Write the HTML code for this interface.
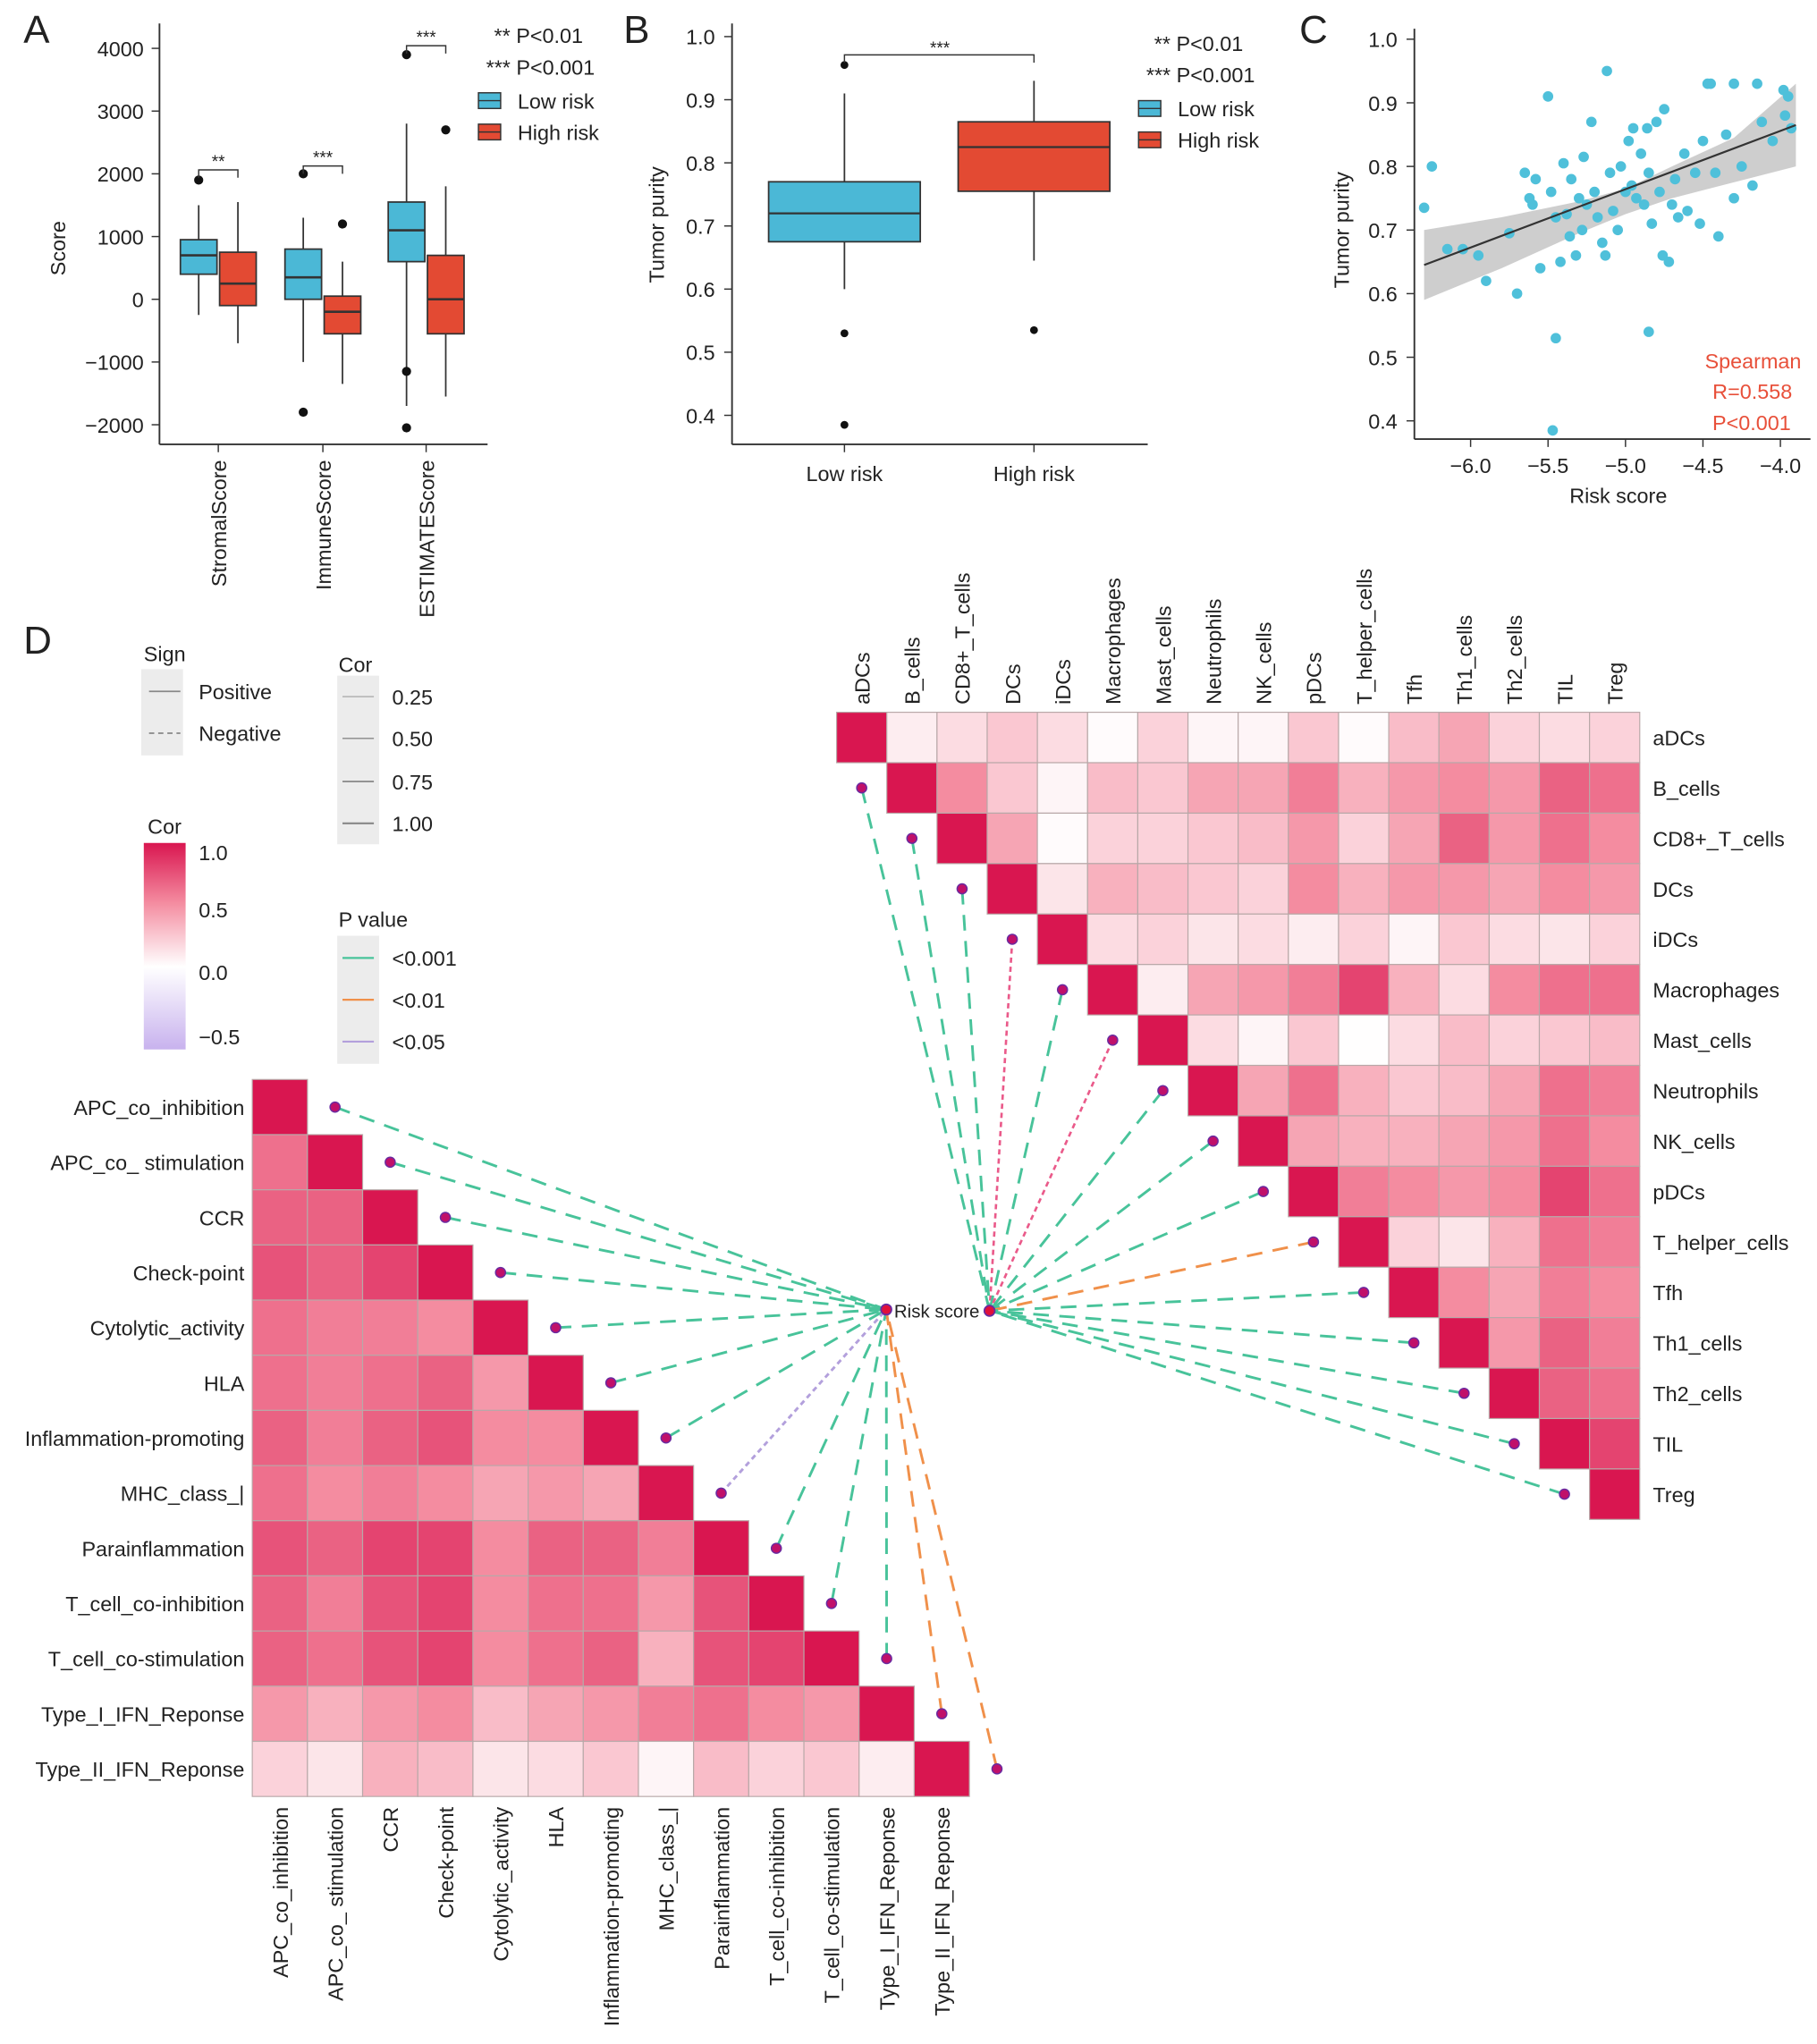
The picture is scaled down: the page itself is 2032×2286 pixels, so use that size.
<!DOCTYPE html>
<html><head><meta charset="utf-8"><style>
html,body{margin:0;padding:0;background:#fff}
svg{display:block;font-family:"Liberation Sans",Arial,sans-serif}
</style></head><body>
<svg id="fig" xmlns="http://www.w3.org/2000/svg" width="2032" height="2286" viewBox="0 0 1390 1564" preserveAspectRatio="none">
<g id="root"></g>
</svg>
<script>
// ---------- DATA ----------
const aGroups=["StromalScore","ImmuneScore","ESTIMATEScore"];
const aLow=[[-250,400,700,950,1500],[-1000,0,350,800,1300],[-1700,600,1100,1550,2800]];
const aHigh=[[-700,-100,250,750,1550],[-1350,-550,-200,50,600],[-1550,-550,0,700,1800]];
const aLowOut=[[1900],[2000,-1800],[3900,-1150,-2050]];
const aHighOut=[[],[1200],[2700]];
const aSig=["**","***","***"];
const aTicks=[4000,3000,2000,1000,0,-1000,-2000];
const bGroups=["Low risk","High risk"];
const bStats=[[0.60,0.675,0.72,0.77,0.91],[0.645,0.755,0.825,0.865,0.93]];
const bOut=[[0.955,0.53,0.385],[0.535]];
const bTicks=[1.0,0.9,0.8,0.7,0.6,0.5,0.4];
const cX=[-6.3,-6.25,-6.15,-5.95,-5.9,-5.75,-5.7,-5.65,-5.62,-5.6,-5.58,-5.55,-5.5,-5.48,-5.45,-5.42,-5.4,-5.38,-5.36,-5.35,-5.32,-5.3,-5.28,-5.27,-5.25,-5.22,-5.2,-5.18,-5.15,-5.13,-5.12,-5.1,-5.08,-5.05,-5.03,-5.0,-4.98,-4.96,-4.95,-4.93,-4.9,-4.88,-4.86,-4.85,-4.83,-4.8,-4.78,-4.76,-4.75,-4.72,-4.7,-4.68,-4.66,-4.62,-4.6,-4.55,-4.52,-4.5,-4.47,-4.45,-4.42,-4.4,-4.35,-4.3,-4.25,-4.18,-4.12,-4.05,-3.98,-3.95,-3.93,-3.97,-5.45,-5.47,-4.85,-4.3,-4.15,-6.05];
const cY=[0.735,0.8,0.67,0.66,0.62,0.695,0.6,0.79,0.75,0.74,0.78,0.64,0.91,0.76,0.72,0.65,0.805,0.725,0.69,0.78,0.66,0.75,0.7,0.815,0.74,0.87,0.76,0.72,0.68,0.66,0.95,0.79,0.73,0.7,0.8,0.76,0.84,0.77,0.86,0.75,0.82,0.74,0.86,0.79,0.71,0.87,0.76,0.66,0.89,0.65,0.74,0.78,0.72,0.82,0.73,0.79,0.71,0.84,0.93,0.93,0.79,0.69,0.85,0.93,0.8,0.77,0.87,0.84,0.92,0.91,0.86,0.88,0.53,0.385,0.54,0.75,0.93,0.67];
const cXTicks=[-6.0,-5.5,-5.0,-4.5,-4.0];
const cYTicks=[1.0,0.9,0.8,0.7,0.6,0.5,0.4];
const rLabels=["aDCs","B_cells","CD8+_T_cells","DCs","iDCs","Macrophages","Mast_cells","Neutrophils","NK_cells","pDCs","T_helper_cells","Tfh","Th1_cells","Th2_cells","TIL","Treg"];
const rUpper=[
[0.15,0.25,0.35,0.25,0.05,0.3,0.1,0.1,0.35,0.05,0.4,0.5,0.3,0.25,0.3],
[0.6,0.35,0.1,0.4,0.35,0.5,0.5,0.65,0.45,0.55,0.6,0.55,0.75,0.7],
[0.5,0.05,0.3,0.3,0.35,0.4,0.55,0.3,0.5,0.75,0.55,0.7,0.6],
[0.2,0.45,0.4,0.35,0.3,0.6,0.45,0.55,0.55,0.5,0.6,0.55],
[0.25,0.3,0.2,0.25,0.15,0.3,0.1,0.35,0.25,0.2,0.3],
[0.15,0.5,0.55,0.65,0.85,0.45,0.25,0.6,0.7,0.7],
[0.25,0.1,0.35,0.02,0.25,0.4,0.3,0.35,0.4],
[0.5,0.7,0.45,0.35,0.4,0.5,0.7,0.65],
[0.5,0.45,0.45,0.5,0.55,0.7,0.6],
[0.65,0.6,0.55,0.6,0.85,0.7],
[0.3,0.2,0.45,0.7,0.65],
[0.6,0.5,0.65,0.6],
[0.55,0.75,0.65],
[0.75,0.7],
[0.85],
[]];
const rLinkP=["","g","g","g","p","g","p","g","g","g","o","g","g","g","g","g"];
const lLabels=["APC_co_inhibition","APC_co_ stimulation","CCR","Check-point","Cytolytic_activity","HLA","Inflammation-promoting","MHC_class_|","Parainflammation","T_cell_co-inhibition","T_cell_co-stimulation","Type_I_IFN_Reponse","Type_II_IFN_Reponse"];
const lLower=[[],
[0.7],
[0.75,0.75],
[0.8,0.75,0.85],
[0.7,0.65,0.65,0.6],
[0.7,0.65,0.7,0.75,0.55],
[0.75,0.65,0.75,0.8,0.6,0.6],
[0.7,0.6,0.65,0.6,0.5,0.55,0.5],
[0.8,0.75,0.85,0.85,0.6,0.75,0.75,0.65],
[0.75,0.65,0.8,0.85,0.6,0.7,0.7,0.55,0.8],
[0.75,0.7,0.8,0.85,0.6,0.7,0.75,0.45,0.8,0.85],
[0.55,0.45,0.55,0.6,0.4,0.5,0.55,0.65,0.7,0.6,0.55],
[0.3,0.2,0.45,0.4,0.2,0.25,0.35,0.1,0.4,0.3,0.35,0.15]];
const lLinkP=["g","g","g","g","g","g","g","v","g","g","g","o","o"];

// ---------- HELPERS ----------
const NS="http://www.w3.org/2000/svg";
const root=document.getElementById("root");
function mk(tag,attrs,parent,txt){const e=document.createElementNS(NS,tag);for(const k in attrs)e.setAttribute(k,attrs[k]);if(txt!==undefined)e.textContent=txt;(parent||root).appendChild(e);return e;}
function grp(name){const g=mk("g",{});return g;}
const BLUE="#4bb8d6",RED="#e34a33",DK="#333";
function corColor(v){
  function lerp(a,b,t){return a.map((x,i)=>Math.round(x+(b[i]-x)*t));}
  let c;
  if(v>=0){const t=Math.pow(v,1.35);
    if(t>=0.5)c=lerp([244,140,160],[217,22,80],(t-0.5)/0.5);
    else c=lerp([255,255,255],[244,140,160],t/0.5);}
  else c=lerp([255,255,255],[200,178,238],Math.min(1,-v/0.5));
  return `rgb(${c.join(",")})`;
}
function label(g,x,y,t,o){const e=mk("text",Object.assign({x:x,y:y,"font-size":16,fill:"#222"},o||{}),g,t);return e;}

// ---------- PANEL A ----------
(function(){
  const g=grp("panel-a");
  const yA=v=>229-v*0.048;
  label(g,18,33,"A",{"font-size":30});
  mk("line",{x1:122,y1:18,x2:122,y2:340,stroke:DK,"stroke-width":1.3},g);
  mk("line",{x1:122,y1:340,x2:373,y2:340,stroke:DK,"stroke-width":1.3},g);
  aTicks.forEach(t=>{const y=yA(t);mk("line",{x1:116,y1:y,x2:122,y2:y,stroke:DK},g);
    const e=label(g,110,y+6,(t<0?"\u2212"+(-t):""+t),{"text-anchor":"end"});});
  const yt=label(g,0,0,"Score",{transform:"translate(50,190) rotate(-90)","text-anchor":"middle"});
  
  const cx=[167,247,326];
  function box(x,s,col,outs,nm){
    const b=grp(nm);g.appendChild(b);
    mk("line",{x1:x,y1:yA(s[4]),x2:x,y2:yA(s[0]),stroke:DK,"stroke-width":1.2},b);
    mk("rect",{x:x-14,y:yA(s[3]),width:28,height:yA(s[1])-yA(s[3]),fill:col,stroke:DK,"stroke-width":1.2},b);
    mk("line",{x1:x-14,y1:yA(s[2]),x2:x+14,y2:yA(s[2]),stroke:DK,"stroke-width":1.8},b);
    outs.forEach(o=>mk("circle",{cx:x,cy:yA(o),r:3.5,fill:"#111"},b));
  }
  aGroups.forEach((nm,i)=>{
    box(cx[i]-15,aLow[i],BLUE,aLowOut[i],"box-low-"+nm.toLowerCase());
    box(cx[i]+15,aHigh[i],RED,aHighOut[i],"box-high-"+nm.toLowerCase());
    mk("line",{x1:cx[i],y1:340,x2:cx[i],y2:346,stroke:DK},g);
    const xl=label(g,0,0,nm,{transform:`translate(${cx[i]+6},352) rotate(-90)`,"text-anchor":"end"});
    
  });
  aGroups.forEach((nm,i)=>{
    const y=i==2?35:(i==0?130:127);
    mk("path",{d:`M${cx[i]-15} ${y+6}V${y}H${cx[i]+15}V${y+6}`,fill:"none",stroke:DK},g);
    label(g,cx[i],y-2,aSig[i],{"text-anchor":"middle","font-size":13});
  });
  label(g,446,33,"** P<0.01",{"text-anchor":"end"});
  label(g,455,57,"*** P<0.001",{"text-anchor":"end"});
  [[BLUE,"Low risk",77],[RED,"High risk",101]].forEach(([c,t,y])=>{
    const l=grp("legend-entry");g.appendChild(l);
    mk("rect",{x:366,y:y-6,width:17,height:12,fill:c,stroke:DK},l);
    mk("line",{x1:366,y1:y,x2:383,y2:y,stroke:DK},l);
    label(l,396,y+6,t);
  });
})();

// ---------- PANEL B ----------
(function(){
  const g=grp("panel-b");
  const yB=v=>28+(1-v)*483;
  label(g,477,33,"B",{"font-size":30});
  mk("line",{x1:560,y1:18,x2:560,y2:340,stroke:DK,"stroke-width":1.3},g);
  mk("line",{x1:560,y1:340,x2:878,y2:340,stroke:DK,"stroke-width":1.3},g);
  bTicks.forEach(t=>{const y=yB(t);mk("line",{x1:554,y1:y,x2:560,y2:y,stroke:DK},g);label(g,547,y+6,t.toFixed(1),{"text-anchor":"end"});});
  label(g,0,0,"Tumor purity",{transform:"translate(508,172) rotate(-90)","text-anchor":"middle"});
  const cx=[646,791],cols=[BLUE,RED];
  bGroups.forEach((nm,i)=>{
    const b=grp("box-"+nm.toLowerCase().replace(" ","-"));g.appendChild(b);
    const s=bStats[i],x=cx[i];
    mk("line",{x1:x,y1:yB(s[4]),x2:x,y2:yB(s[0]),stroke:DK,"stroke-width":1.2},b);
    mk("rect",{x:x-58,y:yB(s[3]),width:116,height:yB(s[1])-yB(s[3]),fill:cols[i],stroke:DK,"stroke-width":1.2},b);
    mk("line",{x1:x-58,y1:yB(s[2]),x2:x+58,y2:yB(s[2]),stroke:DK,"stroke-width":1.5},b);
    bOut[i].forEach(o=>mk("circle",{cx:x,cy:yB(o),r:3,fill:"#111"},b));
    mk("line",{x1:x,y1:340,x2:x,y2:346,stroke:DK},g);
    label(g,x,368,nm,{"text-anchor":"middle"});
  });
  mk("path",{d:"M646 48V42H791V48",fill:"none",stroke:DK},g);
  label(g,719,41,"***",{"text-anchor":"middle","font-size":13});
  label(g,951,39,"** P<0.01",{"text-anchor":"end"});
  label(g,960,63,"*** P<0.001",{"text-anchor":"end"});
  [[BLUE,"Low risk",83],[RED,"High risk",107]].forEach(([c,t,y])=>{
    const l=grp("legend-entry");g.appendChild(l);
    mk("rect",{x:871,y:y-6,width:17,height:12,fill:c,stroke:DK},l);
    mk("line",{x1:871,y1:y,x2:888,y2:y,stroke:DK},l);
    label(l,901,y+6,t);
  });
})();

// ---------- PANEL C ----------
(function(){
  const g=grp("panel-c");
  const xC=v=>1125+(v+6)*118.5, yC=v=>30+(1-v)*486.7;
  label(g,994,33,"C",{"font-size":30});
  const xs=[-6.3,-5.8,-5.3,-5.0,-4.7,-4.3,-3.9];
  const lo=[0.59,0.64,0.695,0.725,0.75,0.775,0.80], hi=[0.70,0.72,0.745,0.765,0.80,0.845,0.93];
  let d="M"+xs.map((x,i)=>xC(x)+" "+yC(hi[i])).join("L")+"L"+xs.slice().reverse().map((x,i)=>xC(x)+" "+yC(lo[lo.length-1-i])).join("L")+"Z";
  const band=mk("path",{d:d,fill:"#bdbdbd","fill-opacity":0.75},g);
  
  cX.forEach((x,i)=>{const p=mk("circle",{cx:xC(x),cy:yC(cY[i]),r:4,fill:"#4fc0da"},g);
    });
  const rl=mk("line",{x1:xC(-6.3),y1:yC(0.645),x2:xC(-3.9),y2:yC(0.865),stroke:"#333","stroke-width":1.5},g);
  
  mk("line",{x1:1082,y1:22,x2:1082,y2:336,stroke:DK,"stroke-width":1.3},g);
  mk("line",{x1:1082,y1:336,x2:1385,y2:336,stroke:DK,"stroke-width":1.3},g);
  cYTicks.forEach(t=>{const y=yC(t);mk("line",{x1:1076,y1:y,x2:1082,y2:y,stroke:DK},g);label(g,1069,y+6,t.toFixed(1),{"text-anchor":"end"});});
  cXTicks.forEach(t=>{const x=xC(t);mk("line",{x1:x,y1:336,x2:x,y2:342,stroke:DK},g);label(g,x,362,"\u2212"+(-t).toFixed(1),{"text-anchor":"middle"});});
  label(g,1238,385,"Risk score",{"text-anchor":"middle"});
  label(g,0,0,"Tumor purity",{transform:"translate(1032,176) rotate(-90)","text-anchor":"middle"});
  label(g,1378,282,"Spearman",{"text-anchor":"end",fill:"#e8503a"});
  label(g,1371,305,"R=0.558",{"text-anchor":"end",fill:"#e8503a"});
  label(g,1370,329,"P<0.001",{"text-anchor":"end",fill:"#e8503a"});
})();

// ---------- PANEL D ----------
(function(){
  const g=grp("panel-d");
  label(g,18,500,"D",{"font-size":30});
  const LC={g:"#48c39a",o:"#f0904a",v:"#b3a0dc",p:"#ea5a8a"};
  mk("rect",{x:108,y:512,width:32,height:66,fill:"#ececec"},g);
  label(g,110,506,"Sign");
  mk("line",{x1:114,y1:529,x2:138,y2:529,stroke:"#888","stroke-width":1.2},g);
  mk("line",{x1:114,y1:561,x2:138,y2:561,stroke:"#888","stroke-width":1.2,"stroke-dasharray":"4 3"},g);
  label(g,152,535,"Positive");label(g,152,567,"Negative");
  mk("rect",{x:258,y:517,width:32,height:129,fill:"#ececec"},g);
  label(g,259,514,"Cor");
  [["0.25",533,0.6],["0.50",565,0.9],["0.75",598,1.2],["1.00",630,1.5]].forEach(([t,y,w])=>{mk("line",{x1:262,y1:y,x2:286,y2:y,stroke:"#888","stroke-width":w},g);label(g,300,y+6,t);});
  mk("rect",{x:258,y:716,width:32,height:98,fill:"#ececec"},g);
  label(g,259,709,"P value");
  [["<0.001",733,LC.g],["<0.01",765,LC.o],["<0.05",797,LC.v]].forEach(([t,y,c])=>{mk("line",{x1:262,y1:y,x2:286,y2:y,stroke:c,"stroke-width":1.5},g);label(g,300,y+6,t);});
  label(g,113,638,"Cor");
  const defs=mk("defs",{},g);
  const lg=mk("linearGradient",{id:"cb",x1:0,y1:0,x2:0,y2:1},defs);
  [[0,1],[0.29,0.6],[0.6,0],[1,-0.6]].forEach(([o,v])=>mk("stop",{offset:o,"stop-color":corColor(v)},lg));
  const cb=mk("rect",{x:110,y:645,width:32,height:158,fill:"url(#cb)"},g);
  
  [["1.0",652],["0.5",696],["0.0",744],["\u22120.5",793]].forEach(([t,y])=>{label(g,152,y+6,t);});

  const rx0=640,ry0=545,rw=38.4,rh=38.6;
  const rnode=[757,1003];
  rLabels.forEach((nm,i)=>{
    const v=[1].concat(rUpper[i]);
    v.forEach((val,k)=>{const j=i+k;
      const c=mk("rect",{x:rx0+j*rw,y:ry0+i*rh,width:rw,height:rh,fill:corColor(val),stroke:"#b8a8a8","stroke-width":0.8},g);
      });
    label(g,rx0+16*rw+10,ry0+(i+0.5)*rh+6,nm);
    label(g,0,0,nm,{transform:`translate(${rx0+(i+0.5)*rw+6},${ry0-6}) rotate(-90)`});
    if(i===0)return;
    const dx=rx0+(i-0.5)*rw,dy=ry0+(i+0.5)*rh;
    const p=rLinkP[i];
    const ln=mk("line",{x1:dx,y1:dy,x2:rnode[0],y2:rnode[1],stroke:LC[p],"stroke-width":p=="p"?1.8:2,"stroke-dasharray":p=="p"?"4 3":"12 8"},g);
    
    mk("circle",{cx:dx,cy:dy,r:3.8,fill:"#c0106a",stroke:"#6a2aa0","stroke-width":1},g);
  });
  const lx0=193,ly0=826,lw=42.2;
  const lnode=[678,1002];
  lLabels.forEach((nm,i)=>{
    const v=lLower[i].concat([1]);
    v.forEach((val,j)=>{
      const c=mk("rect",{x:lx0+j*lw,y:ly0+i*lw,width:lw,height:lw,fill:corColor(val),stroke:"#b8a8a8","stroke-width":0.8},g);
      });
    label(g,187,ly0+(i+0.5)*lw+6,nm,{"text-anchor":"end"});
    label(g,0,0,nm,{transform:`translate(${lx0+(i+0.5)*lw+6},${ly0+13*lw+8}) rotate(-90)`,"text-anchor":"end"});
    const dx=lx0+(i+1.5)*lw,dy=ly0+(i+0.5)*lw;
    const p=lLinkP[i];
    const ln=mk("line",{x1:dx,y1:dy,x2:lnode[0],y2:lnode[1],stroke:LC[p],"stroke-width":2,"stroke-dasharray":p=="v"?"4 3":"12 8"},g);
    
    mk("circle",{cx:dx,cy:dy,r:3.8,fill:"#c0106a",stroke:"#6a2aa0","stroke-width":1},g);
  });
  mk("circle",{cx:lnode[0],cy:lnode[1],r:4,fill:"#e0103a",stroke:"#6a2aa0","stroke-width":1.2},g);
  mk("circle",{cx:rnode[0],cy:rnode[1],r:4,fill:"#e0103a",stroke:"#6a2aa0","stroke-width":1.2},g);
  const rs=label(g,684,1008,"Risk score",{"font-size":14});
  
})();
</script>
</body></html>
